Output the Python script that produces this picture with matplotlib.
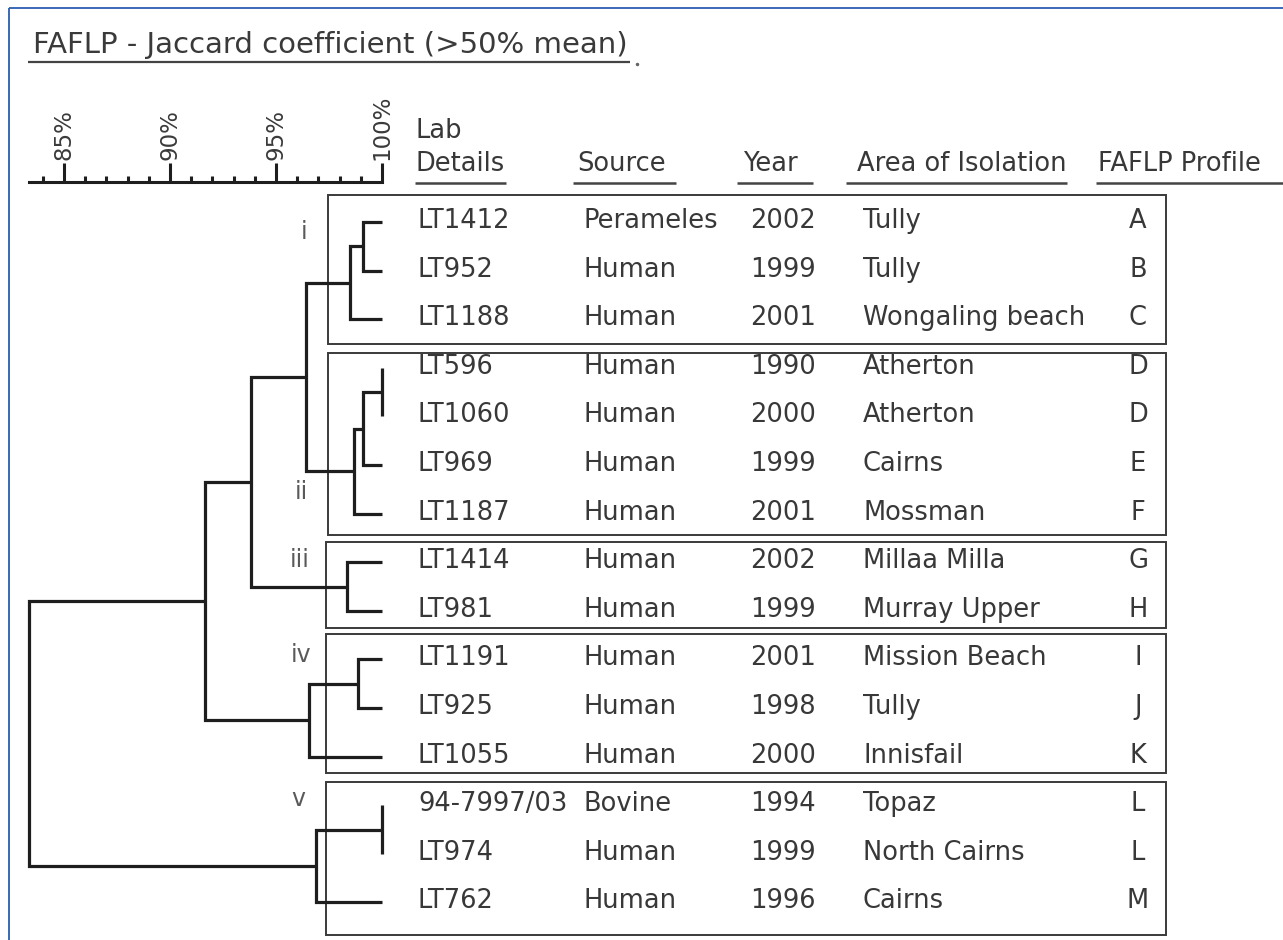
import matplotlib
matplotlib.use("Agg")
import matplotlib.pyplot as plt
from matplotlib import transforms
from matplotlib.patches import Rectangle

# ---------------- data ----------------
lab_details = ['LT1412', 'LT952', 'LT1188', 'LT596', 'LT1060', 'LT969', 'LT1187',
               'LT1414', 'LT981', 'LT1191', 'LT925', 'LT1055', '94-7997/03',
               'LT974', 'LT762']
sources = ['Perameles', 'Human', 'Human', 'Human', 'Human', 'Human', 'Human',
           'Human', 'Human', 'Human', 'Human', 'Human', 'Bovine', 'Human', 'Human']
years = ['2002', '1999', '2001', '1990', '2000', '1999', '2001', '2002', '1999',
         '2001', '1998', '2000', '1994', '1999', '1996']
areas = ['Tully', 'Tully', 'Wongaling beach', 'Atherton', 'Atherton', 'Cairns',
         'Mossman', 'Millaa Milla', 'Murray Upper', 'Mission Beach', 'Tully',
         'Innisfail', 'Topaz', 'North Cairns', 'Cairns']
profiles = ['A', 'B', 'C', 'D', 'D', 'E', 'F', 'G', 'H', 'I', 'J', 'K', 'L', 'L', 'M']

# dendrogram merges: (child a, child b, similarity %) ; leaves are 0..14
merges = [
    (0, 1, 99.1),     # 15
    (15, 2, 98.5),    # 16
    (3, 4, 100.0),    # 17
    (17, 5, 99.1),    # 18
    (18, 6, 98.7),    # 19
    (16, 19, 96.4),   # 20
    (7, 8, 98.35),    # 21
    (20, 21, 93.8),   # 22
    (9, 10, 98.85),   # 23
    (23, 11, 96.55),  # 24
    (22, 24, 91.65),  # 25
    (12, 13, 100.0),  # 26
    (26, 14, 96.9),   # 27
    (25, 27, 83.35),  # 28
]
leaf_similarity = 100.0

cluster_names = ['i', 'ii', 'iii', 'iv', 'v']
cluster_rows = [(0, 2), (3, 6), (7, 8), (9, 11), (12, 14)]

scale_major = [85, 90, 95, 100]
scale_labels = ['85%', '90%', '95%', '100%']
scale_minor = [84, 86, 87, 88, 89, 91, 92, 93, 94, 96, 97, 98, 99]
scale_min = 83.35

title = 'FAFLP - Jaccard coefficient (>50% mean)'
headers = ['Lab\nDetails', 'Source', 'Year', 'Area of Isolation', 'FAFLP Profile']

# ---------------- layout ----------------
W, H = 1283, 940
PX_PER_PCT = 21.2
X85 = 64
ROW0 = 222
ROWH = 48.6

fig = plt.figure(figsize=(W / 100, H / 100), dpi=100)
ax = fig.add_axes([0, 0, 1, 1])
ax.set_xlim(0, W)
ax.set_ylim(H, 0)
ax.axis('off')

xl = (85 - X85 / PX_PER_PCT, 85 + (W - X85) / PX_PER_PCT)
axd = fig.add_axes([0, 0, 1, 1])
axd.patch.set_visible(False)
axd.set_xlim(*xl)
axd.set_ylim((H - ROW0) / ROWH, -ROW0 / ROWH)
axd.axis('off')

ink = '#1e1e1e'
txt = '#383838'
gray = '#5a5a5a'

# blue frame
ax.plot([9, 9], [8, H], color='#2a5db0', lw=1.3, solid_capstyle='butt')
ax.plot([9, W], [8, 8], color='#2a5db0', lw=1.3, solid_capstyle='butt')

# title
ax.text(33, 53, title, fontsize=21, color='#3a3a3a', va='baseline', ha='left')
ax.plot([28, 630], [62, 62], color='#444444', lw=1.6, solid_capstyle='butt')
ax.plot([637], [64], marker='o', ms=1.5, color='#666666')

# ---------------- scale axis ----------------
top_frac = 1 - 182 / H
axs = fig.add_axes([0, top_frac - 0.01, 1, 0.01])
axs.patch.set_visible(False)
axs.set_xlim(*xl)
for s in ['left', 'right', 'bottom']:
    axs.spines[s].set_visible(False)
axs.spines['top'].set_bounds(scale_min, 100)
axs.spines['top'].set_linewidth(2.2)
axs.spines['top'].set_color(ink)
axs.set_yticks([])
axs.xaxis.set_ticks_position('top')
axs.xaxis.set_label_position('top')
axs.set_xticks(scale_major)
axs.set_xticklabels(scale_labels, rotation=90, fontsize=16.5, color='#3a3a3a')
axs.set_xticks(scale_minor, minor=True)
axs.tick_params(axis='x', which='major', direction='out', length=13.7, width=2.2,
                color=ink, pad=2)
axs.tick_params(axis='x', which='minor', direction='out', length=4.3, width=2.2,
                color=ink)

# ---------------- dendrogram ----------------
pos_x = {i: leaf_similarity for i in range(len(lab_details))}
pos_y = {i: float(i) for i in range(len(lab_details))}
node = len(lab_details)
for a, b, sim in merges:
    xa, ya, xb, yb = pos_x[a], pos_y[a], pos_x[b], pos_y[b]
    axd.plot([xa, sim, sim, xb], [ya, ya, yb, yb], color=ink, lw=2.3,
             solid_joinstyle='miter', solid_capstyle='butt', clip_on=False)
    pos_x[node] = sim
    pos_y[node] = (ya + yb) / 2
    node += 1

# ---------------- boxes ----------------
box_pads = [(27, 25), (15, 21), (20, 17), (25, 16), (23, 33)]
box_left = [328, 328, 326, 326, 326]
box_right = 1166
for (r0, r1), (pt, pb), bl in zip(cluster_rows, box_pads, box_left):
    y0 = ROW0 + r0 * ROWH - pt
    y1 = ROW0 + r1 * ROWH + pb
    ax.add_patch(Rectangle((bl, y0), box_right - bl, y1 - y0, fill=False,
                           edgecolor='#3a3a3a', lw=1.4))

# cluster labels
label_px = [(304, 232), (301, 492), (300, 560), (301, 655), (298, 799)]
for name, (lx, ly) in zip(cluster_names, label_px):
    ax.text(lx, ly, name, fontsize=17, color=gray, ha='center', va='center')

# ---------------- headers ----------------
hdr_x = [415, 577, 743, 857, 1098]
ul = [(415, 506), (573, 676), (737, 813), (846, 1067), (1096, 1283)]
for h, hx in zip(headers, hdr_x):
    ax.text(hx, 171, h, fontsize=18.5, color=txt, ha='left', va='baseline',
            linespacing=1.35)
for x0, x1 in ul:
    ax.plot([x0, x1], [183, 183], color='#444444', lw=1.8, solid_capstyle='butt')

# ---------------- table ----------------
row_trans = transforms.blended_transform_factory(ax.transData, axd.transData)
row_trans = transforms.offset_copy(row_trans, fig=fig, x=0, y=-6, units='dots')
col_x = [418, 583, 750, 863]
for i in range(len(lab_details)):
    for cx, col in zip(col_x, [lab_details, sources, years, areas]):
        ax.text(cx, i, col[i], transform=row_trans, fontsize=18.5, color=txt,
                ha='left', va='baseline')
    ax.text(1138, i, profiles[i], transform=row_trans, fontsize=18.5, color=txt,
            ha='center', va='baseline')

fig.savefig('out.png', dpi=100)
